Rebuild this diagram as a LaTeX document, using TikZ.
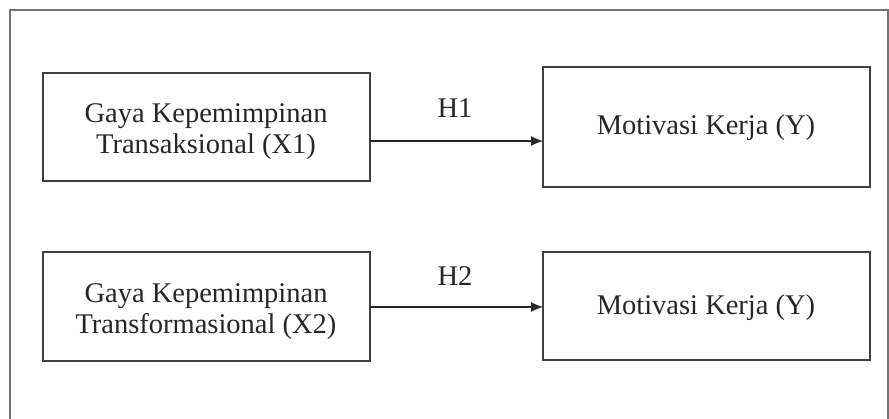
\documentclass[tikz,border=0pt]{standalone}
\usepackage{fontspec}
\setmainfont{Liberation Serif}
\usetikzlibrary{arrows.meta}
\begin{document}
\begin{tikzpicture}[x=1pt,y=-1pt,
  box/.style={draw=black!75,line width=1.8pt},
  lbl/.style={font=\fontsize{28.5}{31}\selectfont,align=center,text=black!85},
  conn/.style={draw=black!85,line width=1.3pt,-{Latex[length=12pt,width=10pt]}}]
\useasboundingbox (0,0) rectangle (889,419);
\begin{scope}
\clip (0,0) rectangle (889,419);
\draw[black!55,line width=2pt] (10,440) -- (10,10) -- (888,10) -- (888,440);
\end{scope}
\draw[box] (43,73) rectangle (370,181);
\draw[box] (543,67) rectangle (870,187);
\draw[box] (43,252) rectangle (370,361);
\draw[box] (543,252) rectangle (870,360);
\coordinate (a1) at (370,141);
\coordinate (b1) at (543,141);
\coordinate (a2) at (370,307);
\coordinate (b2) at (543,307);
\node[lbl] (t1) at (206,132) {Gaya Kepemimpinan\\Transaksional (X1)};
\node[lbl] (m1) at (706,128) {Motivasi Kerja (Y)};
\node[lbl] (t2) at (206,312) {Gaya Kepemimpinan\\Transformasional (X2)};
\node[lbl] (m2) at (706,308) {Motivasi Kerja (Y)};
\draw[conn] (a1) -- (b1);
\draw[conn] (a2) -- (b2);
\node[lbl] (h1) at (455,108) {H1};
\node[lbl] (h2) at (455,276) {H2};
\end{tikzpicture}
\end{document}
